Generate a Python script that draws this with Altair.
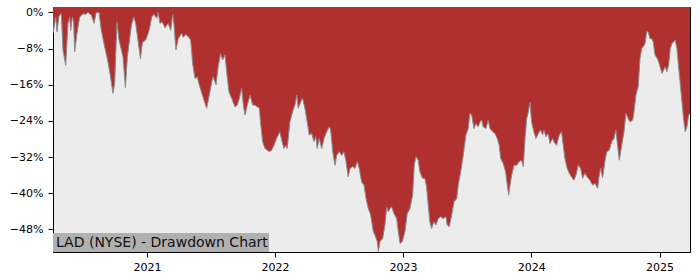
import altair as alt
import pandas as pd

TITLE = "LAD (NYSE) - Drawdown Chart"

# decimal-year positions of the traced drawdown points
dd_year = [
    2020.269, 2020.290, 2020.300, 2020.315, 2020.334, 2020.347, 2020.368, 2020.386, 2020.399, 2020.407,
    2020.420, 2020.430, 2020.438, 2020.456, 2020.477, 2020.503, 2020.524, 2020.542, 2020.568, 2020.589,
    2020.607, 2020.628, 2020.646, 2020.672, 2020.698, 2020.719, 2020.737, 2020.750, 2020.768, 2020.784,
    2020.815, 2020.834, 2020.849, 2020.881, 2020.899, 2020.914, 2020.932, 2020.951, 2020.966, 2020.992,
    2021.010, 2021.023, 2021.037, 2021.055, 2021.076, 2021.088, 2021.101, 2021.119, 2021.141, 2021.166,
    2021.185, 2021.201, 2021.211, 2021.226, 2021.244, 2021.271, 2021.283, 2021.302, 2021.322, 2021.341,
    2021.357, 2021.375, 2021.393, 2021.414, 2021.440, 2021.466, 2021.486, 2021.505, 2021.515, 2021.539,
    2021.557, 2021.575, 2021.591, 2021.609, 2021.622, 2021.640, 2021.661, 2021.687, 2021.705, 2021.721,
    2021.739, 2021.752, 2021.765, 2021.783, 2021.804, 2021.825, 2021.843, 2021.861, 2021.877, 2021.888,
    2021.903, 2021.921, 2021.955, 2021.973, 2021.991, 2022.012, 2022.038, 2022.052, 2022.069, 2022.085,
    2022.095, 2022.116, 2022.137, 2022.155, 2022.169, 2022.181, 2022.200, 2022.215, 2022.233, 2022.251,
    2022.267, 2022.286, 2022.304, 2022.319, 2022.329, 2022.345, 2022.364, 2022.382, 2022.403, 2022.423,
    2022.434, 2022.450, 2022.468, 2022.481, 2022.501, 2022.520, 2022.538, 2022.554, 2022.571, 2022.585,
    2022.606, 2022.624, 2022.642, 2022.657, 2022.676, 2022.694, 2022.710, 2022.728, 2022.746, 2022.767,
    2022.780, 2022.798, 2022.806, 2022.819, 2022.840, 2022.858, 2022.871, 2022.884, 2022.897, 2022.910,
    2022.928, 2022.949, 2022.962, 2022.975, 2022.993, 2023.014, 2023.032, 2023.053, 2023.074, 2023.087,
    2023.100, 2023.118, 2023.131, 2023.152, 2023.170, 2023.183, 2023.196, 2023.209, 2023.222, 2023.240,
    2023.256, 2023.274, 2023.293, 2023.313, 2023.334, 2023.344, 2023.360, 2023.379, 2023.397, 2023.418,
    2023.430, 2023.449, 2023.469, 2023.490, 2023.508, 2023.521, 2023.535, 2023.553, 2023.568, 2023.586,
    2023.600, 2023.613, 2023.625, 2023.646, 2023.664, 2023.678, 2023.699, 2023.717, 2023.735, 2023.750,
    2023.761, 2023.781, 2023.800, 2023.813, 2023.824, 2023.834, 2023.847, 2023.865, 2023.886, 2023.906,
    2023.925, 2023.938, 2023.951, 2023.964, 2023.977, 2023.990, 2024.003, 2024.021, 2024.037, 2024.055,
    2024.073, 2024.089, 2024.099, 2024.115, 2024.133, 2024.146, 2024.167, 2024.177, 2024.198, 2024.219,
    2024.237, 2024.250, 2024.263, 2024.281, 2024.297, 2024.315, 2024.333, 2024.349, 2024.367, 2024.386,
    2024.401, 2024.419, 2024.437, 2024.458, 2024.479, 2024.497, 2024.518, 2024.531, 2024.542, 2024.557,
    2024.575, 2024.589, 2024.609, 2024.628, 2024.646, 2024.661, 2024.671, 2024.687, 2024.706, 2024.724,
    2024.739, 2024.757, 2024.771, 2024.792, 2024.802, 2024.817, 2024.835, 2024.849, 2024.862, 2024.874,
    2024.888, 2024.901, 2024.913, 2024.927, 2024.940, 2024.952, 2024.966, 2024.984, 2024.999, 2025.018,
    2025.030, 2025.044, 2025.057, 2025.070, 2025.083, 2025.096, 2025.109, 2025.122, 2025.135, 2025.148,
    2025.161, 2025.174, 2025.187, 2025.200, 2025.213, 2025.226, 2025.237,
]

# drawdown in percent at those positions
dd_pct = [
    -4.6, -1.0, -4.3, -0.9, -0.2, -8.3, -11.7, -2.4, -1.0, -4.0,
    -1.0, -2.1, -8.7, -4.6, -1.0, -0.3, -0.4, 0.0, -0.6, -2.4,
    0.0, 0.0, -4.0, -7.6, -10.9, -14.5, -17.9, -15.7, -2.1, -6.1,
    -9.8, -16.6, -9.8, -2.8, -1.0, -2.4, -6.1, -10.2, -6.7, -6.1,
    -4.6, -3.2, -1.0, -0.4, -1.3, 0.0, -2.4, -2.1, -3.4, -2.4,
    -4.0, -0.4, -2.7, -8.3, -5.8, -4.6, -5.5, -4.9, -5.3, -6.1,
    -11.4, -14.6, -14.3, -16.6, -19.0, -21.2, -18.3, -15.5, -14.2, -16.0,
    -11.7, -9.1, -10.5, -9.4, -13.1, -17.6, -19.0, -20.9, -20.5, -19.0,
    -16.8, -20.5, -22.7, -20.5, -18.3, -20.5, -20.5, -20.9, -21.2, -24.9,
    -28.6, -30.1, -30.8, -30.5, -29.4, -27.9, -26.4, -28.2, -30.1, -29.4,
    -30.1, -24.2, -22.0, -20.5, -18.3, -21.2, -19.8, -19.0, -21.2, -24.2,
    -27.1, -26.8, -28.6, -27.5, -30.1, -27.9, -30.1, -27.9, -26.4, -25.3,
    -26.0, -30.8, -33.8, -31.6, -30.8, -31.6, -30.8, -33.0, -36.4, -34.5,
    -34.1, -34.5, -33.0, -34.5, -37.5, -38.2, -41.2, -43.4, -44.8, -48.5,
    -49.3, -50.7, -52.9, -50.7, -50.0, -46.9, -43.0, -44.1, -43.4, -43.0,
    -44.5, -45.6, -48.5, -51.1, -50.7, -48.5, -44.5, -43.4, -40.4, -33.8,
    -31.9, -32.7, -35.3, -36.7, -36.7, -38.6, -42.6, -46.3, -47.8, -46.3,
    -47.0, -45.6, -45.2, -45.6, -45.2, -47.0, -47.4, -44.8, -41.9, -41.2,
    -38.2, -35.3, -31.6, -27.1, -25.7, -22.3, -22.7, -25.7, -24.6, -25.3,
    -24.2, -23.8, -25.3, -25.7, -23.8, -25.7, -26.4, -26.8, -27.9, -29.4,
    -32.3, -33.4, -35.3, -38.2, -40.4, -38.2, -36.0, -33.8, -33.8, -33.0,
    -32.7, -34.1, -27.9, -23.5, -22.0, -19.8, -24.2, -26.4, -27.9, -26.8,
    -26.0, -27.1, -26.0, -27.5, -26.8, -29.0, -27.9, -28.6, -29.4, -27.1,
    -26.4, -29.4, -32.3, -34.5, -35.6, -36.4, -37.1, -36.0, -33.8, -34.5,
    -36.7, -35.6, -36.4, -37.1, -38.2, -37.8, -38.9, -36.0, -34.5, -36.6,
    -33.0, -30.8, -30.5, -28.6, -27.9, -26.0, -28.6, -32.7, -29.4, -26.4,
    -22.3, -23.5, -24.2, -23.8, -22.0, -18.3, -16.4, -10.2, -8.0, -7.6,
    -6.9, -4.3, -4.3, -5.8, -5.8, -6.5, -9.4, -10.2, -11.3, -13.5,
    -12.8, -12.0, -13.1, -11.7, -8.0, -6.9, -6.5, -6.1, -8.0, -12.0,
    -15.7, -19.8, -23.5, -26.4, -25.3, -22.7, -22.4,
]

y_ticks = [0, -8, -16, -24, -32, -40, -48]
x_tick_years = ["2021-01-01", "2022-01-01", "2023-01-01", "2024-01-01", "2025-01-01"]
Y_MIN, Y_MAX = -53.0, 1.2


def to_date(y):
    base = pd.Timestamp(f"{int(y)}-01-01")
    return base + pd.Timedelta(days=(y - int(y)) * 365.25)


df = pd.DataFrame({"date": [to_date(y) for y in dd_year], "dd": dd_pct})

x_enc = alt.X(
    "date:T",
    scale=alt.Scale(nice=False),
    axis=alt.Axis(
        title=None,
        values=[pd.Timestamp(d).isoformat() for d in x_tick_years],
        format="%Y",
        labelFontSize=11,
        labelPadding=4,
        tickSize=5,
        grid=False,
    ),
)
y_scale = alt.Scale(domain=[Y_MIN, Y_MAX], nice=False, zero=False)
y_enc = alt.Y(
    "dd:Q",
    scale=y_scale,
    axis=alt.Axis(
        title=None,
        values=y_ticks,
        labelExpr="format(datum.value, 'd') + '%'",
        labelFontSize=11,
        labelPadding=5,
        tickSize=5,
        grid=False,
    ),
)

base = alt.Chart(df)

area = base.mark_area(color="#b03030", clip=True).encode(
    x=x_enc, y=y_enc, y2=alt.datum(Y_MAX)
)
line = base.mark_line(color="#8a8a8a", strokeWidth=1, clip=True).encode(
    x="date:T", y="dd:Q"
)

label_df = pd.DataFrame({"label": [TITLE]})
box = alt.Chart(label_df).mark_rect(color="#b0b0b0").encode(
    x=alt.value(0), x2=alt.value(216), y=alt.value(226), y2=alt.value(245)
)
text = alt.Chart(label_df).mark_text(
    align="left", baseline="middle", fontSize=14, font="DejaVu Sans", color="#111111"
).encode(text="label:N", x=alt.value(3), y=alt.value(235.5))

chart = (
    alt.layer(area, line, box, text)
    .properties(
        width=637,
        height=245,
        autosize=alt.AutoSizeParams(type="none"),
        padding={"left": 53, "top": 7, "right": 10, "bottom": 28},
        background="white",
    )
    .configure_view(fill="#ececec", stroke="black", strokeWidth=1)
    .configure_axis(
        domainColor="black",
        tickColor="black",
        labelColor="black",
        labelFont="DejaVu Sans",
    )
)

chart.save("out.html", embed_options={"renderer": "svg", "actions": False})
